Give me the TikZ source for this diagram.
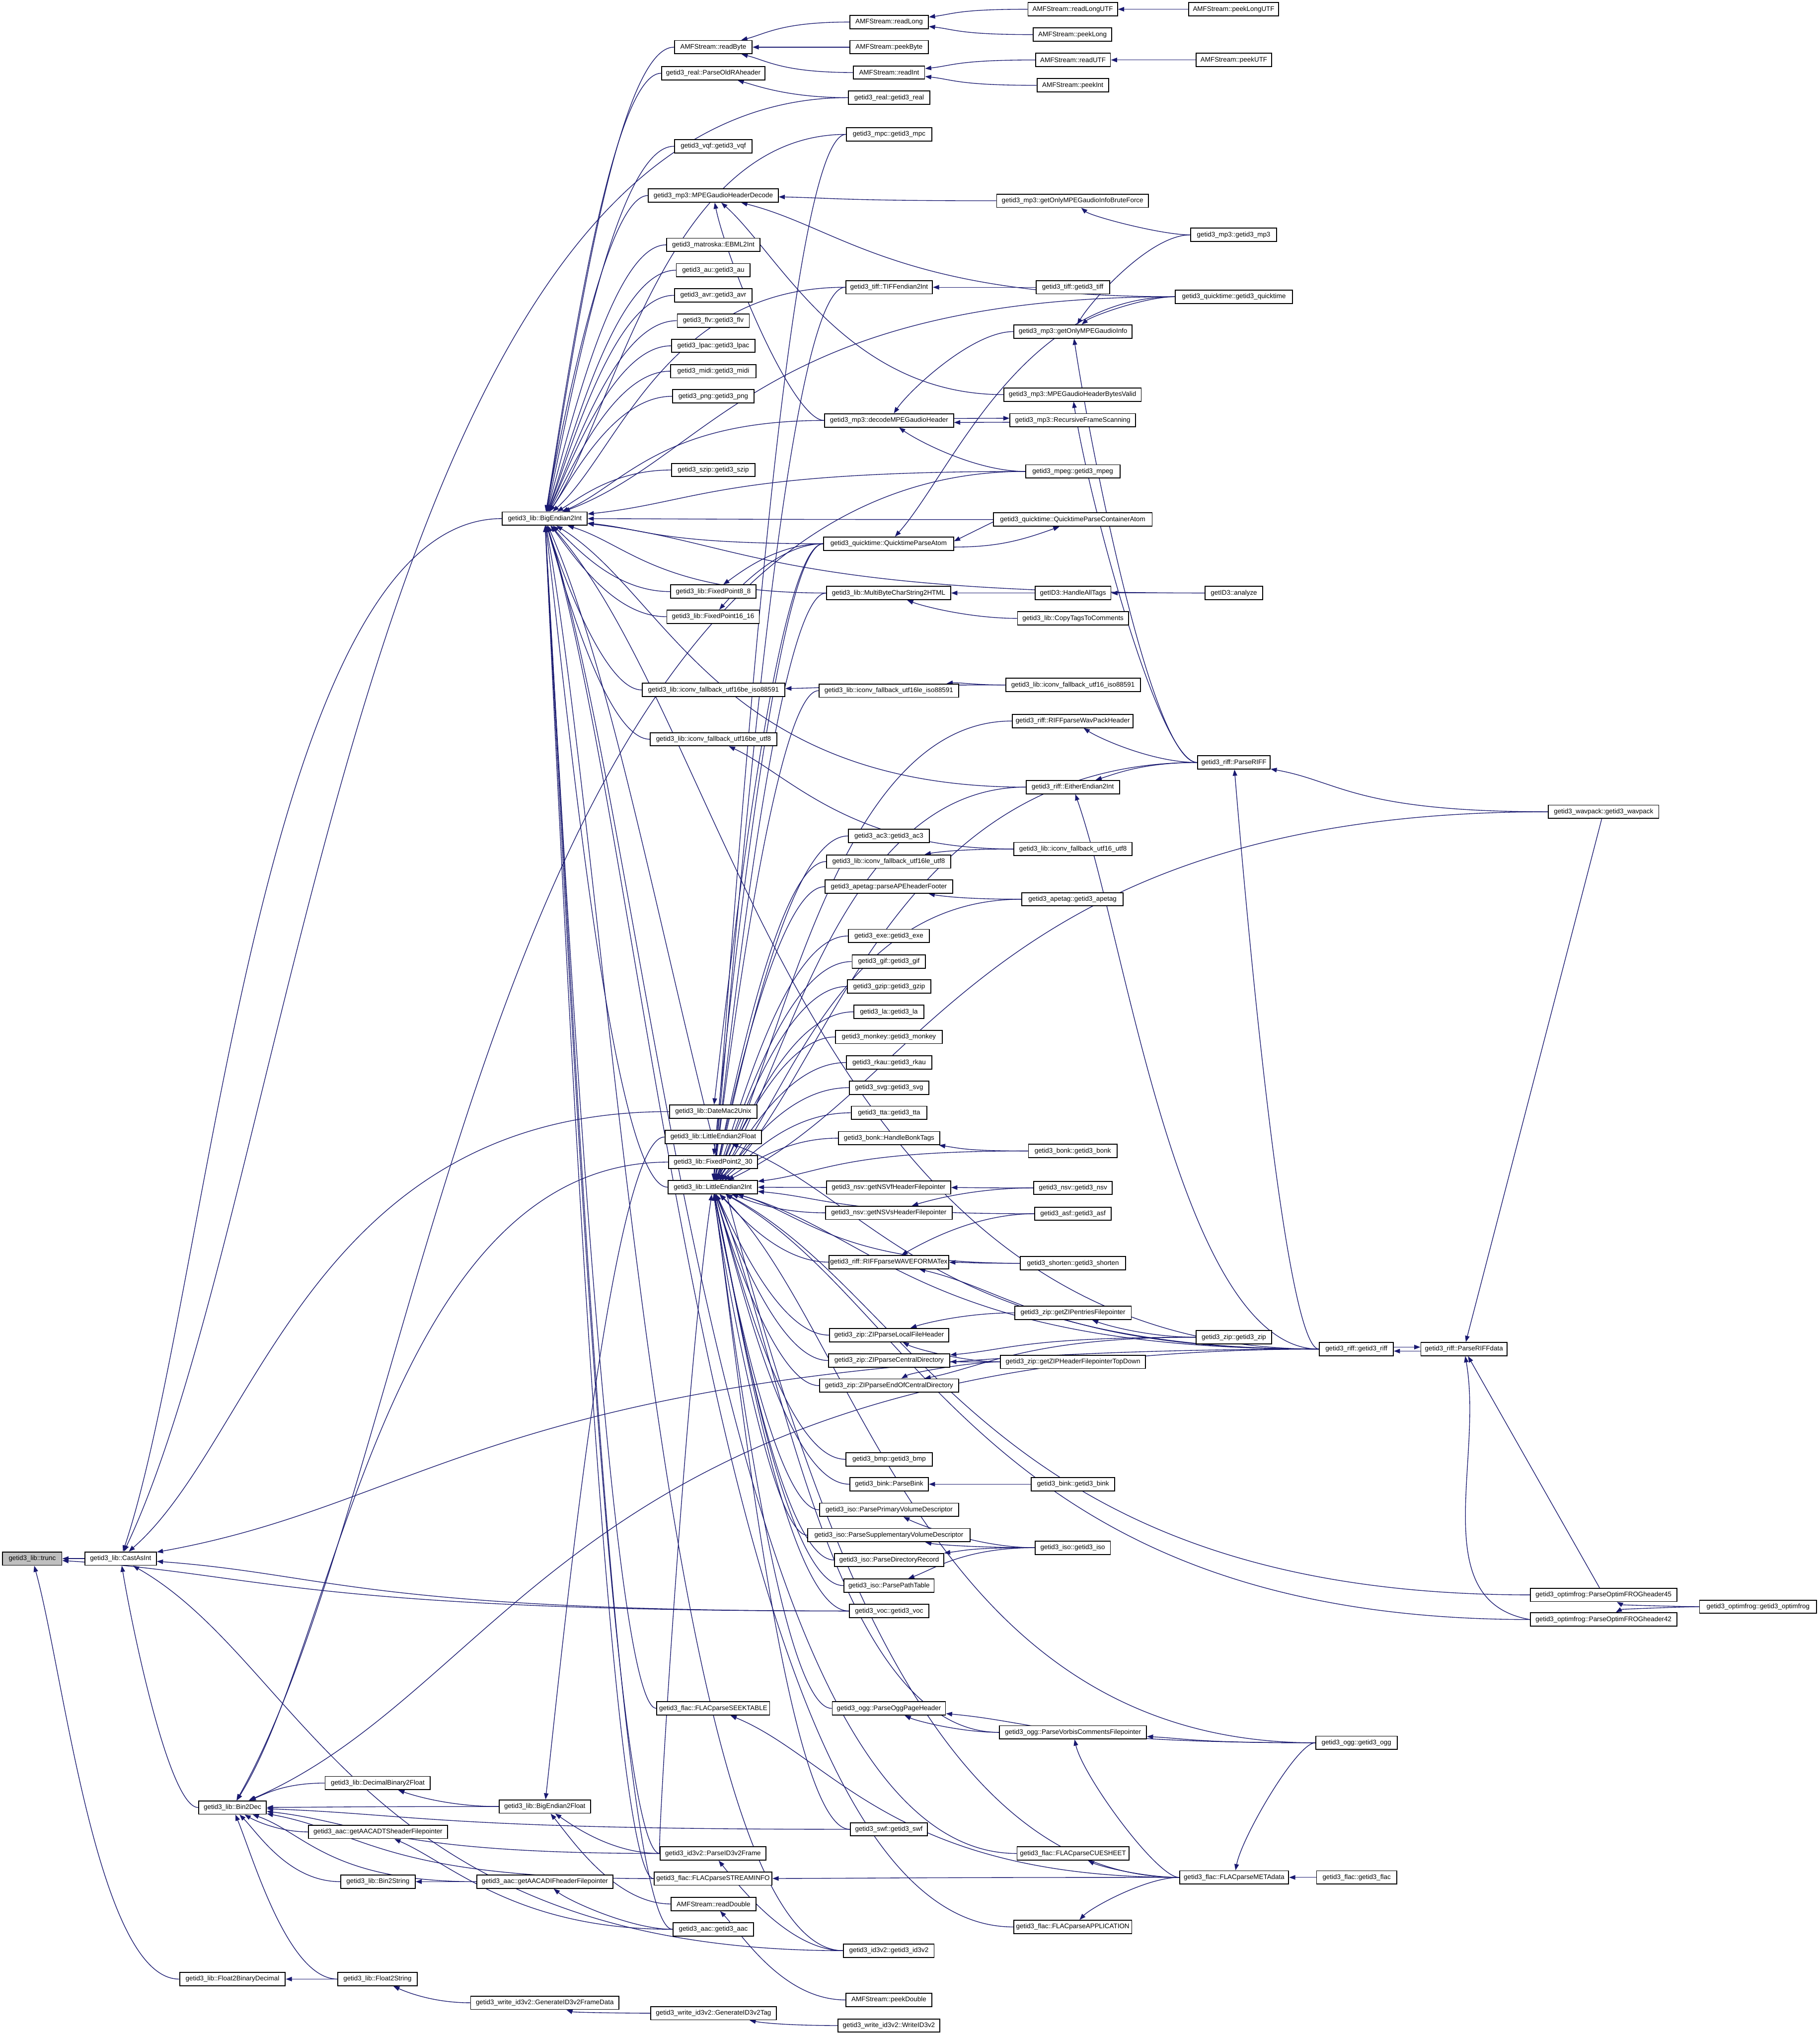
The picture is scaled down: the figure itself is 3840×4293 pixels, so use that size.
\documentclass[tikz,border=0pt]{standalone}
\usepackage{fontspec}
\setmainfont{Liberation Sans}
\usetikzlibrary{arrows.meta,calc}
\pgfdeclarelayer{background}
\pgfsetlayers{background,main}
\definecolor{edgecol}{HTML}{191970}
\definecolor{hl}{HTML}{BFBFBF}
\tikzset{
 box/.style={draw=black, line width=0.55pt, fill=white, inner sep=0pt, minimum height=0.28cm, font=\fontsize{4}{4.8}\selectfont},
 cg/.style={draw=edgecol, line width=0.4pt, -{Triangle[length=1.3mm,width=0.95mm]}},
}
\newcommand\mknode[6][]{\node[box,#1, minimum width=#5*0.01cm] (#2) at (#3,-#4) {#6};}
\newcommand\cge[2]{\draw[cg] let \p1=(#1.west), \p2=(#2.east),
  \n1={atan2(\y1-\y2,\x1-\x2)}, \n2={max(0.7*(\x1-\x2),2pt)},
  \n3={max(0.25*veclen(\x1-\x2,\y1-\y2),2pt)} in
  (#1) to[out=180,in=\n1,out distance=\n2,in distance=\n3] (#2);}
\begin{document}
\begin{tikzpicture}[x=0.01cm,y=0.01cm]
\useasboundingbox (0,0) rectangle (3840,-4293);
% column 0-2
\mknode[fill=hl]{trunc}{68}{3288}{125}{getid3\_lib::trunc}
\mknode{cast}{254.5}{3288}{151}{getid3\_lib::CastAsInt}
\mknode{f2bd}{490.5}{4175}{223}{getid3\_lib::Float2BinaryDecimal}
\mknode{bin2dec}{490.5}{3813}{143}{getid3\_lib::Bin2Dec}
\mknode{be2i}{1149.5}{1094}{179}{getid3\_lib::BigEndian2Int}
\mknode{db2f}{797}{3761.5}{222}{getid3\_lib::DecimalBinary2Float}
\mknode{adts}{797.5}{3864.5}{293}{getid3\_aac::getAACADTSheaderFilepointer}
\mknode{b2s}{797.5}{3969.5}{157}{getid3\_lib::Bin2String}
\mknode{f2s}{796.5}{4175}{167}{getid3\_lib::Float2String}
\mknode{be2f}{1149.5}{3811}{193}{getid3\_lib::BigEndian2Float}
\mknode{adif}{1149.5}{3969.5}{287}{getid3\_aac::getAACADIFheaderFilepointer}
\mknode{gfd}{1149.5}{4225}{313}{getid3\_write\_id3v2::GenerateID3v2FrameData}
% column 1505
\mknode{readbyte}{1505}{99.5}{164}{AMFStream::readByte}
\mknode{oldra}{1505}{154.5}{218}{getid3\_real::ParseOldRAheader}
\mknode{vqf}{1505}{308.5}{164}{getid3\_vqf::getid3\_vqf}
\mknode{mhd}{1505}{412.5}{274}{getid3\_mp3::MPEGaudioHeaderDecode}
\mknode{ebml}{1505}{516.5}{197}{getid3\_matroska::EBML2Int}
\mknode{au}{1505}{570}{156}{getid3\_au::getid3\_au}
\mknode{avr}{1505}{623}{164}{getid3\_avr::getid3\_avr}
\mknode{flv}{1505}{676.5}{152}{getid3\_flv::getid3\_flv}
\mknode{lpac}{1505}{729.5}{176}{getid3\_lpac::getid3\_lpac}
\mknode{midi}{1505}{783}{180}{getid3\_midi::getid3\_midi}
\mknode{png}{1505}{836}{172}{getid3\_png::getid3\_png}
\mknode{szip}{1505}{991.5}{176}{getid3\_szip::getid3\_szip}
\mknode{fp88}{1505}{1248}{180}{getid3\_lib::FixedPoint8\_8}
\mknode{fp1616}{1504.5}{1301}{195}{getid3\_lib::FixedPoint16\_16}
\mknode{bei}{1505.5}{1455.5}{301}{getid3\_lib::iconv\_fallback\_utf16be\_iso88591}
\mknode{beu}{1505.5}{1559.5}{267}{getid3\_lib::iconv\_fallback\_utf16be\_utf8}
\mknode{dm2u}{1505}{2345}{184}{getid3\_lib::DateMac2Unix}
\mknode{le2f}{1505}{2398.5}{204}{getid3\_lib::LittleEndian2Float}
\mknode{fp230}{1504.5}{2451.5}{187}{getid3\_lib::FixedPoint2\_30}
\mknode{le2i}{1504}{2504.5}{188}{getid3\_lib::LittleEndian2Int}
\mknode{seek}{1505}{3604}{238}{getid3\_flac::FLACparseSEEKTABLE}
\mknode{pid3f}{1504.5}{3910}{223}{getid3\_id3v2::ParseID3v2Frame}
\mknode{sinfo}{1504.5}{3963}{249}{getid3\_flac::FLACparseSTREAMINFO}
\mknode{rdbl}{1505.5}{4016.5}{179}{AMFStream::readDouble}
\mknode{aac}{1505}{4070}{170}{getid3\_aac::getid3\_aac}
\mknode{gtag}{1505.5}{4247}{265}{getid3\_write\_id3v2::GenerateID3v2Tag}
% column 1876
\mknode{readlong}{1876}{46.5}{166}{AMFStream::readLong}
\mknode{peekbyte}{1876}{99.5}{166}{AMFStream::peekByte}
\mknode{readint}{1876}{153}{150}{AMFStream::readInt}
\mknode{real}{1876}{206}{172}{getid3\_real::getid3\_real}
\mknode{mpc}{1876}{283.5}{180}{getid3\_mpc::getid3\_mpc}
\mknode{tiffe}{1876}{606}{183}{getid3\_tiff::TIFFendian2Int}
\mknode{dmh}{1876}{887}{272}{getid3\_mp3::decodeMPEGaudioHeader}
\mknode{qpa}{1875}{1147}{274}{getid3\_quicktime::QuicktimeParseAtom}
\mknode{mbc}{1875}{1251}{262}{getid3\_lib::MultiByteCharString2HTML}
\mknode{lei}{1875.5}{1457}{295}{getid3\_lib::iconv\_fallback\_utf16le\_iso88591}
\mknode{ac3}{1875.5}{1763.5}{171}{getid3\_ac3::getid3\_ac3}
\mknode{leu}{1875}{1817.5}{262}{getid3\_lib::iconv\_fallback\_utf16le\_utf8}
\mknode{apehf}{1875.5}{1870.5}{269}{getid3\_apetag::parseAPEheaderFooter}
\mknode{exe}{1875.5}{1974.5}{171}{getid3\_exe::getid3\_exe}
\mknode{gif}{1875.5}{2028.5}{155}{getid3\_gif::getid3\_gif}
\mknode{gzip}{1876}{2081}{176}{getid3\_gzip::getid3\_gzip}
\mknode{la}{1875.5}{2134.5}{147}{getid3\_la::getid3\_la}
\mknode{monkey}{1875.5}{2187.5}{225}{getid3\_monkey::getid3\_monkey}
\mknode{rkau}{1876}{2241.5}{180}{getid3\_rkau::getid3\_rkau}
\mknode{svg}{1876}{2294.5}{168}{getid3\_svg::getid3\_svg}
\mknode{tta}{1876}{2347.5}{160}{getid3\_tta::getid3\_tta}
\mknode{hbonk}{1876}{2401}{214}{getid3\_bonk::HandleBonkTags}
\mknode{nsvf}{1875}{2505}{262}{getid3\_nsv::getNSVfHeaderFilepointer}
\mknode{nsvs}{1875.5}{2558.5}{267}{getid3\_nsv::getNSVsHeaderFilepointer}
\mknode{wfex}{1875.5}{2662.5}{253}{getid3\_riff::RIFFparseWAVEFORMATex}
\mknode{zlfh}{1876}{2816.5}{252}{getid3\_zip::ZIPparseLocalFileHeader}
\mknode{zcd}{1876}{2870}{256}{getid3\_zip::ZIPparseCentralDirectory}
\mknode{zeocd}{1876}{2923}{294}{getid3\_zip::ZIPparseEndOfCentralDirectory}
\mknode{bmp}{1876}{3078.5}{182}{getid3\_bmp::getid3\_bmp}
\mknode{pbink}{1876}{3131}{166}{getid3\_bink::ParseBink}
\mknode{ppvd}{1876}{3185}{294}{getid3\_iso::ParsePrimaryVolumeDescriptor}
\mknode{psvd}{1875.5}{3238.5}{343}{getid3\_iso::ParseSupplementaryVolumeDescriptor}
\mknode{pdr}{1876}{3291}{230}{getid3\_iso::ParseDirectoryRecord}
\mknode{ppt}{1876}{3345}{190}{getid3\_iso::ParsePathTable}
\mknode{voc}{1876}{3398.5}{168}{getid3\_voc::getid3\_voc}
\mknode{oggph}{1875.5}{3604}{239}{getid3\_ogg::ParseOggPageHeader}
\mknode{swf}{1875.5}{3859}{163}{getid3\_swf::getid3\_swf}
\mknode{id3v2}{1875.5}{4115}{191}{getid3\_id3v2::getid3\_id3v2}
\mknode{pdbl}{1875.5}{4219}{181}{AMFStream::peekDouble}
\mknode{wid3}{1875.5}{4273}{215}{getid3\_write\_id3v2::WriteID3v2}
% column 2264
\mknode{rlutf}{2263.5}{19.5}{189}{AMFStream::readLongUTF}
\mknode{plong}{2263}{73}{166}{AMFStream::peekLong}
\mknode{rutf}{2264}{126.5}{158}{AMFStream::readUTF}
\mknode{pint}{2263.5}{180}{151}{AMFStream::peekInt}
\mknode{brute}{2263}{423.5}{320}{getid3\_mp3::getOnlyMPEGaudioInfoBruteForce}
\mknode{tiff}{2263.5}{606}{155}{getid3\_tiff::getid3\_tiff}
\mknode{gomi}{2264}{699.5}{250}{getid3\_mp3::getOnlyMPEGaudioInfo}
\mknode{hbv}{2263}{832.5}{290}{getid3\_mp3::MPEGaudioHeaderBytesValid}
\mknode{rfs}{2263.5}{886.5}{265}{getid3\_mp3::RecursiveFrameScanning}
\mknode{mpeg}{2263.5}{994.5}{199}{getid3\_mpeg::getid3\_mpeg}
\mknode{qpca}{2263.5}{1096}{335}{getid3\_quicktime::QuicktimeParseContainerAtom}
\mknode{hat}{2264}{1251}{160}{getID3::HandleAllTags}
\mknode{cttc}{2264}{1304.5}{234}{getid3\_lib::CopyTagsToComments}
\mknode{ui}{2264}{1445}{284}{getid3\_lib::iconv\_fallback\_utf16\_iso88591}
\mknode{wph}{2263.5}{1521}{255}{getid3\_riff::RIFFparseWavPackHeader}
\mknode{ee2i}{2263.5}{1660.5}{197}{getid3\_riff::EitherEndian2Int}
\mknode{uu}{2264}{1791}{250}{getid3\_lib::iconv\_fallback\_utf16\_utf8}
\mknode{apetag}{2263}{1897}{214}{getid3\_apetag::getid3\_apetag}
\mknode{bonk}{2263.5}{2428}{187}{getid3\_bonk::getid3\_bonk}
\mknode{nsv}{2264}{2506}{166}{getid3\_nsv::getid3\_nsv}
\mknode{asf}{2264}{2560.5}{162}{getid3\_asf::getid3\_asf}
\mknode{shorten}{2264}{2665}{222}{getid3\_shorten::getid3\_shorten}
\mknode{zent}{2264}{2769.5}{246}{getid3\_zip::getZIPentriesFilepointer}
\mknode{ztd}{2264}{2873}{306}{getid3\_zip::getZIPHeaderFilepointerTopDown}
\mknode{bink}{2264}{3131}{176}{getid3\_bink::getid3\_bink}
\mknode{iso}{2263.5}{3265}{159}{getid3\_iso::getid3\_iso}
\mknode{vcfp}{2264}{3654.5}{310}{getid3\_ogg::ParseVorbisCommentsFilepointer}
\mknode{cue}{2264}{3910}{236}{getid3\_flac::FLACparseCUESHEET}
\mknode{app}{2263.5}{4065}{249}{getid3\_flac::FLACparseAPPLICATION}
% column 2603
\mknode{plutf}{2603}{19.5}{190}{AMFStream::peekLongUTF}
\mknode{putf}{2603.5}{126.5}{159}{AMFStream::peekUTF}
\mknode{mp3}{2603}{495.5}{182}{getid3\_mp3::getid3\_mp3}
\mknode{qt}{2603.5}{626}{247}{getid3\_quicktime::getid3\_quicktime}
\mknode{analyze}{2603.5}{1251}{121}{getID3::analyze}
\mknode{priff}{2603.5}{1608.5}{153}{getid3\_riff::ParseRIFF}
\mknode{zip}{2603.5}{2821}{159}{getid3\_zip::getid3\_zip}
\mknode{meta}{2604}{3960.5}{230}{getid3\_flac::FLACparseMETAdata}
% columns right
\mknode{riff}{2862}{2846}{156}{getid3\_riff::getid3\_riff}
\mknode{ogg}{2862}{3676.5}{172}{getid3\_ogg::getid3\_ogg}
\mknode{flac}{2862.5}{3960.5}{169}{getid3\_flac::getid3\_flac}
\mknode{prd}{3089}{2846}{182}{getid3\_riff::ParseRIFFdata}
\mknode{wavpack}{3383.5}{1712.5}{233}{getid3\_wavpack::getid3\_wavpack}
\mknode{of45}{3383.5}{3364.5}{309}{getid3\_optimfrog::ParseOptimFROGheader45}
\mknode{of42}{3383.5}{3416.5}{309}{getid3\_optimfrog::ParseOptimFROGheader42}
\mknode{optim}{3709.5}{3389.5}{247}{getid3\_optimfrog::getid3\_optimfrog}
\begin{pgfonlayer}{background}
\fill[white] (0,0) rectangle (3840,-4293);
% AMF
\cge{readlong}{readbyte}\cge{peekbyte}{readbyte}\cge{readint}{readbyte}
\cge{rlutf}{readlong}\cge{plong}{readlong}\cge{plutf}{rlutf}
\cge{rutf}{readint}\cge{pint}{readint}\cge{putf}{rutf}
\cge{readbyte}{be2i}\cge{pdbl}{rdbl}\cge{rdbl}{be2f}
% real / mpc / simple BE users
\cge{oldra}{be2i}\cge{real}{oldra}\cge{real}{cast}
\cge{mpc}{be2i}\cge{mpc}{le2i}
\cge{vqf}{be2i}\cge{mhd}{be2i}\cge{ebml}{be2i}\cge{au}{be2i}\cge{avr}{be2i}
\cge{flv}{be2i}\cge{lpac}{be2i}\cge{midi}{be2i}\cge{png}{be2i}\cge{szip}{be2i}
% mp3 / quicktime
\cge{qt}{be2i}\cge{qt}{mhd}\cge{qt}{qpa}\cge{qt}{gomi}
\cge{dmh}{be2i}\cge{dmh}{mhd}
\draw[cg] ([yshift=1.2pt]dmh.east) -- ([yshift=1.2pt]rfs.west);
\draw[cg] ([yshift=-1.2pt]rfs.west) -- ([yshift=-1.2pt]dmh.east);
\cge{gomi}{dmh}\cge{mpeg}{dmh}\cge{mpeg}{be2i}\cge{mpeg}{bin2dec}
\cge{brute}{mhd}\cge{hbv}{mhd}\cge{mp3}{brute}\cge{mp3}{gomi}
\cge{priff}{gomi}\cge{priff}{hbv}
\cge{tiffe}{be2i}\cge{tiffe}{le2i}\cge{tiff}{tiffe}
\cge{analyze}{be2i}\cge{analyze}{hat}
\cge{qpca}{be2i}
\draw[cg] ([yshift=-1.5pt]qpca.west) -- ([yshift=1.5pt]qpa.east);
\draw[cg] ([yshift=-2pt]qpa.east) to[out=0,in=200] ([xshift=-8pt]qpca.south);
\cge{qpa}{be2i}\cge{qpa}{fp88}\cge{qpa}{fp1616}\cge{qpa}{fp230}\cge{qpa}{dm2u}
\cge{fp88}{be2i}\cge{fp1616}{be2i}\cge{fp230}{bin2dec}
\cge{mbc}{be2i}\cge{mbc}{le2i}\cge{hat}{mbc}\cge{cttc}{mbc}
\cge{bei}{be2i}\cge{beu}{be2i}\cge{lei}{le2i}\cge{leu}{le2i}
\cge{ui}{bei}\cge{ui}{lei}\cge{uu}{beu}\cge{uu}{leu}
% riff
\cge{wph}{le2i}\cge{priff}{wph}\cge{priff}{ee2i}\cge{priff}{le2i}
\cge{wavpack}{priff}\cge{wavpack}{le2i}
\draw[cg] (wavpack) -- (prd);
\cge{ee2i}{be2i}\cge{ee2i}{le2i}\cge{riff}{ee2i}
\cge{riff}{priff}
\draw[cg] ([yshift=1.2pt]riff.east) -- ([yshift=1.2pt]prd.west);
\draw[cg] ([yshift=-1.2pt]prd.west) -- ([yshift=-1.2pt]riff.east);
\cge{riff}{le2i}\cge{riff}{le2f}\cge{riff}{be2i}\cge{riff}{wfex}\cge{riff}{bin2dec}\cge{riff}{cast}
\draw[cg] (of45) -- (prd);
\draw[cg] (of42.west) to[out=170,in=-80] (prd);
\cge{optim}{of45}\cge{optim}{of42}\cge{of45}{le2i}\cge{of42}{le2i}
% LittleEndian2Int users
\cge{ac3}{le2i}\cge{exe}{le2i}\cge{gif}{le2i}\cge{gzip}{le2i}\cge{la}{le2i}
\cge{monkey}{le2i}\cge{rkau}{le2i}\cge{svg}{le2i}\cge{tta}{le2i}
\cge{apehf}{le2i}\cge{apetag}{apehf}\cge{apetag}{le2i}
\cge{hbonk}{le2i}\cge{bonk}{hbonk}\cge{bonk}{le2i}
\cge{nsvf}{le2i}\cge{nsvs}{le2i}\cge{nsv}{nsvf}\cge{nsv}{nsvs}
\cge{wfex}{le2i}\cge{asf}{wfex}\cge{asf}{le2i}\cge{shorten}{wfex}\cge{shorten}{le2i}
\cge{zlfh}{le2i}\cge{zcd}{le2i}\cge{zeocd}{le2i}\cge{zent}{zlfh}
\cge{zip}{zent}\cge{zip}{zcd}\cge{zip}{zeocd}
\cge{ztd}{zlfh}\cge{ztd}{zcd}\cge{ztd}{zeocd}
\cge{bmp}{le2i}\cge{pbink}{le2i}\cge{bink}{pbink}
\cge{ppvd}{le2i}\cge{psvd}{le2i}\cge{pdr}{le2i}\cge{ppt}{le2i}
\cge{iso}{ppvd}\cge{iso}{psvd}\cge{iso}{pdr}\cge{iso}{ppt}
\cge{voc}{le2i}\cge{voc}{cast}\cge{voc}{trunc}
\cge{dm2u}{cast}\cge{le2f}{be2f}\cge{le2i}{be2i}
% core
\cge{be2i}{cast}\cge{bin2dec}{cast}\cge{cast}{trunc}\cge{f2bd}{trunc}
\cge{f2s}{f2bd}\cge{f2s}{bin2dec}\cge{gfd}{f2s}\cge{gtag}{gfd}\cge{wid3}{gtag}
\cge{db2f}{bin2dec}\cge{be2f}{bin2dec}\cge{be2f}{db2f}\cge{adts}{bin2dec}
\cge{b2s}{bin2dec}\cge{adif}{bin2dec}\cge{adif}{b2s}
\cge{aac}{adts}\cge{aac}{adif}\cge{aac}{be2i}
\cge{pid3f}{bin2dec}\cge{pid3f}{be2f}\cge{pid3f}{be2i}\cge{pid3f}{le2i}
\cge{id3v2}{pid3f}\cge{id3v2}{be2i}\cge{id3v2}{cast}
% flac / ogg
\cge{sinfo}{bin2dec}\cge{sinfo}{be2i}\cge{seek}{be2i}\cge{cue}{be2i}\cge{app}{be2i}
\cge{meta}{sinfo}\cge{meta}{seek}\cge{meta}{cue}\cge{meta}{app}\cge{meta}{vcfp}\cge{meta}{be2i}
\cge{flac}{meta}\cge{ogg}{meta}\cge{ogg}{oggph}\cge{ogg}{vcfp}\cge{ogg}{le2i}
\cge{vcfp}{oggph}\cge{vcfp}{le2i}\cge{oggph}{le2i}
\cge{swf}{bin2dec}\cge{swf}{le2i}
\end{pgfonlayer}
\end{tikzpicture}
\end{document}
